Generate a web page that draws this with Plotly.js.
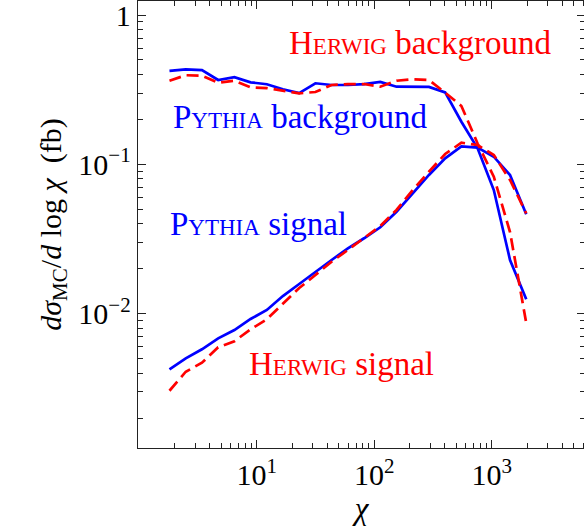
<!DOCTYPE html>
<html>
<head>
<meta charset="utf-8">
<script src="https://cdn.plot.ly/plotly-3.0.1.min.js"></script>
<style>
html, body { margin: 0; padding: 0; overflow: hidden; background: #fff; }
#chart { width: 586px; height: 529px; }
</style>
</head>
<body>
<div id="chart"></div>
<script>
// chi bin centres
const chi = [1.81, 2.49, 3.42, 4.70, 6.46, 8.87, 12.2, 16.7, 23.0, 31.6, 43.4, 59.7,
             82.0, 112.7, 154.9, 212.8, 292.4, 401.8, 552.1, 758.6, 1042, 1432, 1968];
// d sigma_MC / d log chi (fb)
const pythiaBackground = [0.422, 0.433, 0.428, 0.367, 0.383, 0.354, 0.344, 0.318, 0.300, 0.349, 0.340, 0.340,
                          0.345, 0.356, 0.331, 0.330, 0.330, 0.303, 0.193, 0.128, 0.0673, 0.0229, 0.0125];
const herwigBackground = [0.363, 0.395, 0.392, 0.352, 0.363, 0.328, 0.324, 0.311, 0.299, 0.305, 0.340, 0.344,
                          0.345, 0.331, 0.363, 0.371, 0.367, 0.302, 0.246, 0.138, 0.0827, 0.0352, 0.00866];
const pythiaSignal = [0.00424, 0.00503, 0.00578, 0.00684, 0.00778, 0.00922, 0.01059, 0.01313, 0.01581, 0.0191, 0.0229, 0.0274,
                      0.0320, 0.0379, 0.0482, 0.0640, 0.0849, 0.1098, 0.1317, 0.1293, 0.1125, 0.0849, 0.0463];
const herwigSignal = [0.00305, 0.00409, 0.00470, 0.00596, 0.00654, 0.00786, 0.00918, 0.01161, 0.01486, 0.01816, 0.0223, 0.0267,
                      0.0320, 0.0387, 0.0495, 0.0673, 0.0893, 0.1173, 0.1396, 0.1348, 0.1155, 0.0786, 0.0470];

const xTickVals = [10, 100, 1000];
const xTickText = ['10<sup>1</sup>', '10<sup>2</sup>', '10<sup>3</sup>'];
const yTickVals = [0.01, 0.1, 1];
const yTickText = ['10<sup>\u22122</sup>', '10<sup>\u22121</sup>', '1'];

function minorVals(lo, hi) {
  const out = [];
  for (let e = lo; e <= hi; e++) for (let m = 2; m <= 9; m++) out.push(m * Math.pow(10, e));
  return out;
}

const FONT = 'Liberation Serif, Times New Roman, serif';
const BLUE = '#0000ff', RED = '#ff0000';
const DASH = '12px,6px';

const traces = [
  {x: chi, y: pythiaBackground, name: 'Pythia background', mode: 'lines', line: {color: BLUE, width: 2.7}},
  {x: chi, y: pythiaSignal, name: 'Pythia signal', mode: 'lines', line: {color: BLUE, width: 2.7}},
  {x: chi, y: herwigBackground, name: 'Herwig background', mode: 'lines', line: {color: RED, width: 2.7, dash: DASH}},
  {x: chi, y: herwigSignal, name: 'Herwig signal', mode: 'lines', line: {color: RED, width: 2.7, dash: DASH}}
];

const axisCommon = {
  type: 'log', showgrid: false, zeroline: false,
  showline: true, linecolor: '#222', linewidth: 1.3, mirror: 'ticks',
  ticks: 'inside', ticklen: 8, tickwidth: 1, tickcolor: '#222',
  tickmode: 'array', ticklabeloverflow: 'allow',
  tickfont: {family: FONT, size: 30, color: '#000'}
};

const ANN = 33;

const layout = {
  width: 586, height: 529,
  margin: {l: 138, r: 1, t: 1, b: 81, pad: 0},
  paper_bgcolor: '#fff', plot_bgcolor: '#fff',
  showlegend: false,
  font: {family: FONT, color: '#000'},
  xaxis: Object.assign({}, axisCommon, {
    range: [-0.0102, 3.794],
    tickvals: xTickVals, ticktext: xTickText,
    minor: {tickmode: 'array', tickvals: minorVals(0, 3), ticks: 'inside', ticklen: 5, tickwidth: 1, tickcolor: '#222', showgrid: false},
    title: {text: '<i>χ</i>', font: {family: FONT, size: 31, color: '#000'}, standoff: 6}
  }),
  yaxis: Object.assign({}, axisCommon, {
    range: [-2.899, 0.0937],
    tickvals: yTickVals, ticktext: yTickText,
    minor: {tickmode: 'array', tickvals: minorVals(-3, 0), ticks: 'inside', ticklen: 5, tickwidth: 1, tickcolor: '#222', showgrid: false},
    title: {text: '\u00a0<i>dσ</i><sub>MC</sub>/<i>d</i> log <i>χ</i>\u00a0\u00a0(fb)', font: {family: FONT, size: 30, color: '#000'}, standoff: 8}
  }),
  annotations: [
    {xref: 'paper', yref: 'paper', x: 0.631, y: 0.906, xanchor: 'center', yanchor: 'middle', showarrow: false,
     text: '<span style="font-variant:small-caps">Herwig</span> background', font: {family: FONT, size: ANN, color: RED}},
    {xref: 'paper', yref: 'paper', x: 0.362, y: 0.7405, xanchor: 'center', yanchor: 'middle', showarrow: false,
     text: '<span style="font-variant:small-caps">Pythia</span> background', font: {family: FONT, size: ANN, color: BLUE}},
    {xref: 'paper', yref: 'paper', x: 0.269, y: 0.5022, xanchor: 'center', yanchor: 'middle', showarrow: false,
     text: '<span style="font-variant:small-caps">Pythia</span> signal', font: {family: FONT, size: ANN, color: BLUE}},
    {xref: 'paper', yref: 'paper', x: 0.4557, y: 0.189, xanchor: 'center', yanchor: 'middle', showarrow: false,
     text: '<span style="font-variant:small-caps">Herwig</span> signal', font: {family: FONT, size: ANN, color: RED}}
  ]
};

Plotly.newPlot('chart', traces, layout, {staticPlot: true, displayModeBar: false});
</script>
</body>
</html>
